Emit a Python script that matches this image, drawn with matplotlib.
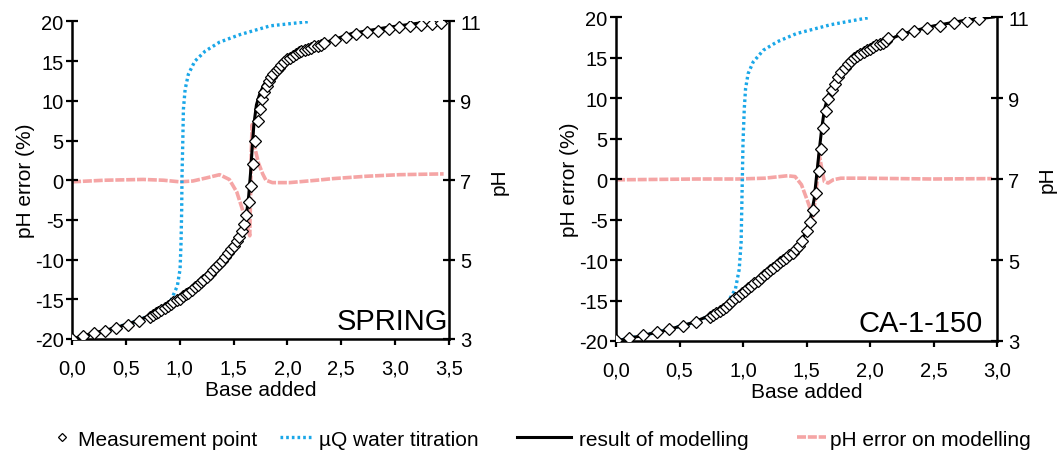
import matplotlib
matplotlib.use("Agg")
import matplotlib.pyplot as plt
from matplotlib.ticker import FuncFormatter

plt.rcParams['font.family'] = ['Liberation Sans', 'DejaVu Sans']
plt.rcParams['axes.unicode_minus'] = False

# --- SPRING: measurement points (base added, pH)
spring_x = [0.00, 0.10, 0.20, 0.31, 0.41, 0.52, 0.62,
            0.72, 0.75, 0.78, 0.80, 0.83, 0.86, 0.89, 0.92, 0.94, 0.97,
            1.00, 1.03, 1.06, 1.08, 1.11, 1.14, 1.17, 1.20, 1.22, 1.25,
            1.28, 1.31, 1.34, 1.36, 1.39, 1.42, 1.45, 1.48, 1.50, 1.53,
            1.55, 1.575, 1.597, 1.616, 1.64, 1.662, 1.683, 1.70, 1.73, 1.748,
            1.767, 1.785, 1.807, 1.83, 1.85, 1.87, 1.90, 1.92, 1.94, 1.97,
            2.00, 2.02, 2.05, 2.08, 2.11, 2.13, 2.16, 2.19, 2.22, 2.25,
            2.28, 2.31, 2.34,
            2.44, 2.54, 2.64, 2.74, 2.84, 2.94, 3.04, 3.14, 3.24, 3.34, 3.43]
spring_ph = [3.00, 3.08, 3.15, 3.21, 3.28, 3.36, 3.45,
             3.56, 3.60, 3.65, 3.69, 3.73, 3.78, 3.83, 3.88, 3.92, 3.97,
             4.02, 4.08, 4.13, 4.17, 4.23, 4.30, 4.37, 4.44, 4.49, 4.57,
             4.65, 4.73, 4.82, 4.88, 4.97, 5.07, 5.17, 5.27, 5.35, 5.48,
             5.58, 5.72, 5.89, 6.12, 6.44, 6.86, 7.40, 7.99, 8.48, 8.80,
             9.04, 9.22, 9.37, 9.50, 9.60, 9.67, 9.77, 9.84, 9.90, 9.98,
             10.05, 10.09, 10.14, 10.18, 10.22, 10.25, 10.28, 10.31, 10.34, 10.37,
             10.39, 10.42, 10.45,
             10.54, 10.62, 10.68, 10.73, 10.77, 10.82, 10.85, 10.89, 10.91, 10.94, 10.97]

# SPRING: result of modelling
spring_model_x = [0.00, 0.20, 0.40, 0.60, 0.80, 1.00, 1.20, 1.40, 1.50, 1.58, 1.62,
                  1.64, 1.658, 1.672, 1.688, 1.712, 1.74, 1.78, 1.85, 1.95, 2.10,
                  2.30, 2.60, 2.90, 3.25]
spring_model_ph = [3.00, 3.15, 3.28, 3.45, 3.69, 4.02, 4.44, 5.00, 5.35, 5.75, 6.15,
                   6.60, 7.20, 7.80, 8.40, 8.90, 9.15, 9.40, 9.65, 9.90, 10.18,
                   10.42, 10.70, 10.84, 10.97]

# SPRING: µQ water titration
spring_water_x = [0.00, 0.30, 0.60, 0.80, 0.91, 0.978, 1.003, 1.012, 1.018, 1.021,
                  1.028, 1.034, 1.05, 1.08, 1.14, 1.235, 1.37, 1.56, 1.84, 2.21]
spring_water_ph = [3.00, 3.20, 3.45, 3.69, 3.92, 4.34, 4.76, 5.43, 6.27, 7.11,
                   7.95, 8.79, 9.29, 9.67, 10.00, 10.25, 10.48, 10.67, 10.89, 11.00]

# SPRING: pH error on modelling (%)
spring_err_x = [0.00, 0.30, 0.66, 0.85, 1.00, 1.12, 1.25, 1.37, 1.46, 1.53, 1.58, 1.62,
                1.65, 1.656, 1.664, 1.672, 1.69, 1.73, 1.77, 1.80, 1.86, 2.02, 2.27,
                2.42, 2.73, 3.04, 3.45]
spring_err = [-0.2, 0.0, 0.1, 0.0, -0.2, -0.1, 0.3, 0.7, 0.1, -1.5, -3.6, -5.4,
              -7.0, -3.0, 3.5, 7.0, 4.5, 2.2, 0.8, 0.0, -0.3, -0.3, 0.0,
              0.2, 0.5, 0.7, 0.8]

# --- CA-1-150: measurement points
ca_x = [0.00, 0.10, 0.21, 0.32, 0.42, 0.53, 0.63,
        0.74, 0.765, 0.79, 0.815, 0.84, 0.865, 0.89, 0.915, 0.94, 0.965,
        0.99, 1.015, 1.04, 1.065, 1.09, 1.115, 1.14, 1.165, 1.19, 1.215,
        1.24, 1.265, 1.29, 1.315, 1.34, 1.365, 1.39, 1.415, 1.44, 1.465,
        1.50, 1.53, 1.55, 1.575, 1.595, 1.615, 1.63, 1.65, 1.67, 1.70,
        1.725, 1.75, 1.775, 1.80, 1.825, 1.85, 1.875, 1.90, 1.925, 1.95,
        1.975, 2.00, 2.025, 2.05, 2.075, 2.10, 2.125, 2.14,
        2.25, 2.35, 2.45, 2.55, 2.66, 2.76, 2.86]
ca_ph = [3.02, 3.08, 3.14, 3.21, 3.29, 3.38, 3.48,
         3.60, 3.64, 3.69, 3.74, 3.79, 3.85, 3.92, 3.98, 4.05, 4.11,
         4.18, 4.24, 4.30, 4.37, 4.43, 4.49, 4.56, 4.62, 4.68, 4.75,
         4.81, 4.88, 4.94, 5.00, 5.06, 5.12, 5.18, 5.26, 5.35, 5.47,
         5.72, 5.95, 6.24, 6.65, 7.19, 7.74, 8.26, 8.69, 8.97, 9.19,
         9.35, 9.52, 9.63, 9.73, 9.83, 9.92, 9.98, 10.04, 10.09, 10.14,
         10.18, 10.22, 10.26, 10.30, 10.33, 10.37, 10.41, 10.47,
         10.58, 10.66, 10.73, 10.79, 10.85, 10.90, 10.94]

# CA-1-150: result of modelling
ca_model_x = [0.00, 0.20, 0.40, 0.60, 0.80, 1.00, 1.20, 1.40, 1.48, 1.53, 1.56, 1.58,
              1.60, 1.62, 1.64, 1.67, 1.72, 1.80, 1.90, 2.05, 2.25, 2.50, 2.75, 2.97]
ca_model_ph = [3.00, 3.13, 3.27, 3.45, 3.71, 4.18, 4.68, 5.20, 5.60, 6.00, 6.50, 7.10,
               7.70, 8.25, 8.70, 9.05, 9.40, 9.73, 10.04, 10.30, 10.58, 10.78, 10.92, 11.00]

# CA-1-150: µQ water titration
ca_water_x = [0.00, 0.30, 0.60, 0.80, 0.87, 0.94, 0.97, 0.985, 0.99, 0.995,
              1.00, 1.01, 1.02, 1.04, 1.08, 1.16, 1.27, 1.42, 1.69, 2.00]
ca_water_ph = [3.00, 3.20, 3.44, 3.71, 3.91, 4.28, 4.77, 5.43, 6.26, 7.08,
               7.91, 8.74, 9.23, 9.60, 9.89, 10.18, 10.39, 10.59, 10.81, 10.99]

# CA-1-150: pH error on modelling (%)
ca_err_x = [0.00, 0.64, 0.96, 1.17, 1.35, 1.41, 1.46, 1.51, 1.55, 1.57, 1.59, 1.60,
            1.62, 1.64, 1.67, 1.71, 1.77, 1.96, 2.49, 2.96]
ca_err = [-0.1, 0.0, 0.0, 0.1, 0.4, 0.3, -0.7, -2.8, -4.6, -2.4, 0.9, 3.0,
          1.3, -0.3, -0.5, -0.1, 0.1, 0.1, 0.0, 0.05]

err_ticks = [-20, -15, -10, -5, 0, 5, 10, 15, 20]
ph_ticks = [3, 5, 7, 9, 11]

BLUE = '#1aa7e8'
PINK = '#f5a5a5'
FS = 15
TFS = 14.5

fig = plt.figure(figsize=(10.61, 4.56), dpi=100)
ax_left = fig.add_axes([0.0679, 0.2544, 0.3553, 0.6963])
ax_right = fig.add_axes([0.5806, 0.25, 0.3591, 0.7105])

comma = FuncFormatter(lambda v, p: f"{v:.1f}".replace('.', ','))


def draw(ax, name, name_x, xmax, mx, mph, modx, modph, wx, wph, ex, ev):
    ax.plot(ex, ev, color=PINK, lw=2.6, ls=(0, (2.5, 0.5)), zorder=1)
    ax.set_xlim(0, xmax)
    ax.set_ylim(-20, 20)
    ax.set_yticks(err_ticks)
    ax.set_xticks([i * 0.5 for i in range(int(xmax / 0.5) + 1)])
    ax.xaxis.set_major_formatter(comma)
    ax.set_ylabel('pH error (%)', fontsize=FS, labelpad=0)
    ax.set_xlabel('Base added', fontsize=FS, labelpad=2)
    ax.spines['top'].set_visible(False)
    ax.spines['right'].set_visible(False)
    for s in ['left', 'bottom']:
        ax.spines[s].set_linewidth(1.8)
    ax.tick_params(axis='y', direction='inout', length=8, width=1.6, labelsize=TFS, pad=2)
    ax.tick_params(axis='x', direction='out', length=4, width=1.6, labelsize=TFS, pad=10)

    ax2 = ax.twinx()
    ax2.set_ylim(3, 11)
    ax2.set_yticks(ph_ticks)
    ax2.plot(wx, wph, color=BLUE, lw=2.4, ls=(0, (0.8, 0.9)), zorder=2)
    ax2.plot(modx, modph, color='black', lw=2.2, zorder=3)
    ax2.plot(mx, mph, ls='none', marker='D', ms=5.8, mfc='white', mec='black',
             mew=0.9, zorder=4)
    ax2.spines['top'].set_visible(False)
    ax2.spines['left'].set_visible(False)
    ax2.spines['bottom'].set_visible(False)
    ax2.spines['right'].set_linewidth(1.8)
    ax2.tick_params(axis='y', direction='inout', length=8, width=1.6, labelsize=TFS, pad=4)
    ax2.set_ylabel('pH', fontsize=FS, rotation=90, labelpad=6)
    ax2.text(name_x, 0.012, name, transform=ax2.transAxes, ha='right', va='bottom',
             fontsize=21)
    return ax2


l2 = draw(ax_left, 'SPRING', 0.998, 3.5, spring_x, spring_ph, spring_model_x, spring_model_ph,
          spring_water_x, spring_water_ph, spring_err_x, spring_err)
r2 = draw(ax_right, 'CA-1-150', 0.962, 3.0, ca_x, ca_ph, ca_model_x, ca_model_ph,
          ca_water_x, ca_water_ph, ca_err_x, ca_err)

# legend: four separate entries laid out along the bottom
handles = [l2.lines[2], l2.lines[0], l2.lines[1], ax_left.lines[0]]
labels = ['Measurement point', 'µQ water titration', 'result of modelling', 'pH error on modelling']
xs = [0.051, 0.264, 0.487, 0.751]
hlen = [0.8, 1.6, 2.6, 1.4]
hpad = [0.35, 0.25, 0.4, 0.2]
for h, lab, x, hl, hp in zip(handles, labels, xs, hlen, hpad):
    fig.legend([h], [lab], loc='center left', bbox_to_anchor=(x, 0.035), frameon=False,
               fontsize=FS, handlelength=hl, handletextpad=hp, borderpad=0,
               borderaxespad=0, markerscale=0.75)

fig.savefig('out.png', dpi=100)
